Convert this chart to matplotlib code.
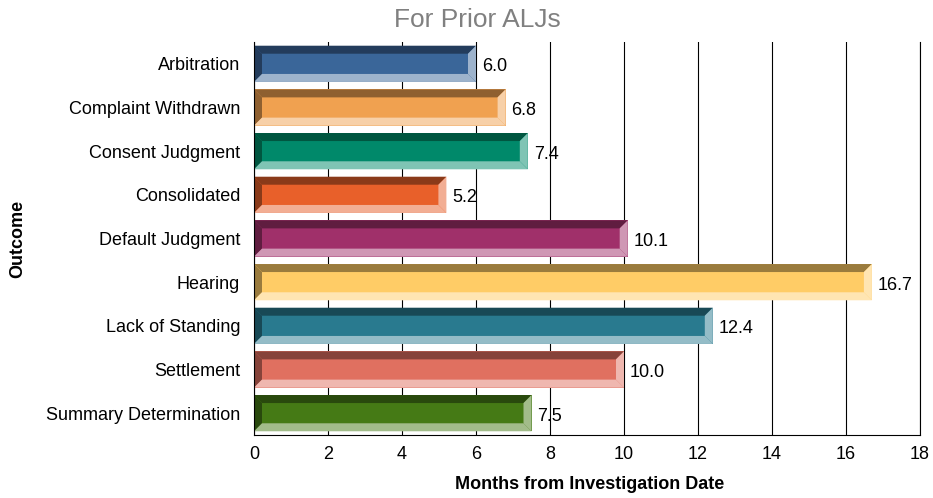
import matplotlib
matplotlib.use("Agg")
import matplotlib.pyplot as plt
from matplotlib.patches import Polygon

plt.rcParams['font.family'] = ['Liberation Sans', 'DejaVu Sans']

categories = ["Arbitration", "Complaint Withdrawn", "Consent Judgment", "Consolidated",
              "Default Judgment", "Hearing", "Lack of Standing", "Settlement",
              "Summary Determination"]
values = [6.0, 6.8, 7.4, 5.2, 10.1, 16.7, 12.4, 10.0, 7.5]
main_colors = ["#3A6699", "#F0A150", "#00896A", "#E8602A", "#A0306A",
               "#FFCC66", "#297A8F", "#E07060", "#457A15"]
dark_colors = ["#233C5C", "#8F6030", "#005640", "#8A3A19", "#601D40",
               "#9A7B3D", "#184956", "#86433A", "#29490D"]
light_colors = ["#9DB3CC", "#F7D0A8", "#7FC4B4", "#F2AE94", "#CF97B4",
                "#FFE5B2", "#94BCC7", "#EFB7AF", "#A2BC8A"]
xticks = [0, 2, 4, 6, 8, 10, 12, 14, 16, 18]

W, H = 933, 498
fig = plt.figure(figsize=(W / 100, H / 100), dpi=100)
ax_l, ax_r, ax_t, ax_b = 254, 920, 42, 435
ax = fig.add_axes([ax_l / W, 1 - ax_b / H, (ax_r - ax_l) / W, (ax_b - ax_t) / H])

n = len(categories)
ax.set_xlim(0, 18)
ax.set_ylim(n - 0.5, -0.5)

px_x = (ax_r - ax_l) / 18.0
px_y = (ax_b - ax_t) / float(n)
bev = 8.0
dx = bev / px_x
dy = bev / px_y
h = 0.83

ypos = list(range(n))
ax.barh(ypos, values, height=h, color=main_colors, zorder=3, linewidth=0)

for i, v in enumerate(values):
    top = i - h / 2
    bot = i + h / 2
    x0, x1 = 0.0, v
    polys = [
        ([(x0, top), (x1, top), (x1 - dx, top + dy), (x0 + dx, top + dy)], dark_colors[i]),
        ([(x0, top), (x0 + dx, top + dy), (x0 + dx, bot - dy), (x0, bot)], dark_colors[i]),
        ([(x0, bot), (x1, bot), (x1 - dx, bot - dy), (x0 + dx, bot - dy)], light_colors[i]),
        ([(x1, top), (x1, bot), (x1 - dx, bot - dy), (x1 - dx, top + dy)], light_colors[i]),
    ]
    for pts, c in polys:
        ax.add_patch(Polygon(pts, closed=True, facecolor=c, edgecolor='none', zorder=4))
    ax.text(v + 6 / px_x, i + 3 / px_y, f"{v:.1f}", va='center', ha='left', fontsize=13,
            color='black', zorder=5)

ax.set_xticks(xticks)
ax.set_xticklabels([str(t) for t in xticks])
ax.set_yticks(ypos)
ax.set_yticklabels(categories)
ax.tick_params(axis='both', length=0, labelsize=13)
ax.tick_params(axis='y', pad=10)
ax.tick_params(axis='x', pad=8)

ax.grid(axis='x', color='black', linewidth=0.8, zorder=0)
ax.set_axisbelow(True)
ax.spines['top'].set_visible(False)
ax.spines['right'].set_color('black')
ax.spines['right'].set_linewidth(0.8)
ax.spines['left'].set_color('black')
ax.spines['bottom'].set_color('black')
ax.spines['left'].set_zorder(6)

fig.text(477 / W, 1 - 20 / H, "For Prior ALJs", ha='center', va='center',
         fontsize=19, color='#808080')
fig.text(590 / W, 1 - 484 / H, "Months from Investigation Date", ha='center',
         va='center', fontsize=13, fontweight='bold')
fig.text(18 / W, 1 - 239 / H, "Outcome", ha='center', va='center', rotation=90,
         fontsize=13, fontweight='bold')

fig.savefig("out.png", dpi=100)
